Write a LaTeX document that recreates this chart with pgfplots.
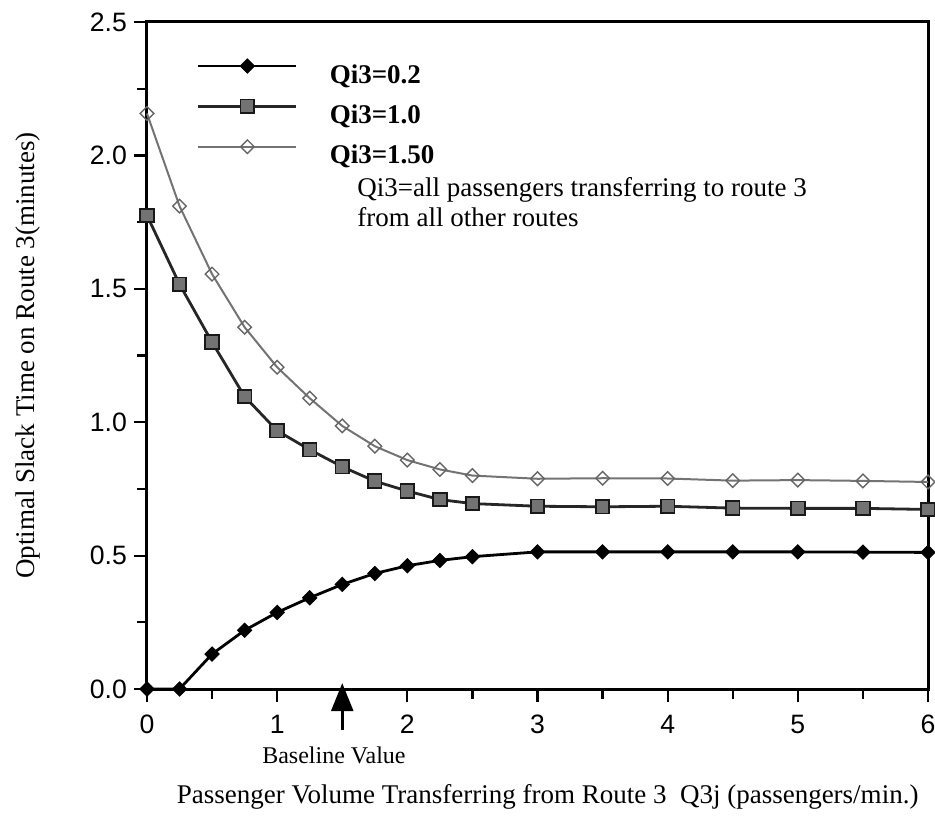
\documentclass[border=0pt]{standalone}
\usepackage{fontspec}
\setmainfont{Liberation Serif}
\newfontfamily\sansf{Liberation Sans}
\usepackage{pgfplots}
\pgfplotsset{compat=1.18}
\usetikzlibrary{arrows.meta}

\begin{document}
\begin{tikzpicture}
\path[use as bounding box] (-73.5pt,-63pt) rectangle (394pt,344.5pt);
\begin{axis}[
  scale only axis, width=390.5pt, height=333.5pt,
  xmin=0, xmax=6, ymin=0, ymax=2.5,
  clip=false,
  axis line style={line width=1.5pt},
  xtick={0,1,2,3,4,5,6},
  minor xtick={0.5,1.5,2.5,3.5,4.5,5.5},
  ytick={0,0.5,1.0,1.5,2.0,2.5},
  minor ytick={0.25,0.75,1.25,1.75,2.25},
  tick align=outside, xtick pos=bottom, ytick pos=left,
  major tick length=6.5pt, minor tick length=5pt,
  every tick/.style={line width=1.1pt, black},
  /pgf/number format/assume math mode=true,
  ticklabel style={font=\sansf\fontsize{13.3}{14}\selectfont},
  xticklabel style={yshift=-3pt},
  yticklabel style={/pgf/number format/.cd, fixed, fixed zerofill, precision=1},
  xlabel={Passenger Volume Transferring from Route 3\ \ Q3j (passengers/min.)},
  xlabel style={at={(axis description cs:0.513,-0.162)}, anchor=center, font=\fontsize{13.5}{15}\selectfont},
  ylabel={Optimal Slack Time on Route 3(minutes)},
  ylabel style={at={(axis description cs:-0.1524,0.5)}, anchor=center, font=\fontsize{13.5}{15}\selectfont},
  legend style={at={(axis description cs:0.064,0.9445)}, anchor=north west, draw=none, fill=none,
    inner sep=0pt, outer sep=0pt, row sep=4.25pt,
    font=\bfseries\fontsize{13.5}{15}\selectfont,
    nodes={inner sep=1pt, text height=10pt, text depth=3pt},
    /tikz/every odd column/.append style={column sep=15pt}},
  legend cell align=left,
  legend image code/.code={\draw[mark repeat=2,mark phase=2,yshift=5pt] plot coordinates {(0pt,0pt)(24.5pt,0pt)(49pt,0pt)};},
]
\draw[line width=1.5pt, black] (rel axis cs:0,0) rectangle (rel axis cs:1,1);
\addplot[black, line width=1.4pt, mark=square*, mark size=2.5pt, mark options={rotate=45, fill=black, draw=black, line width=0.5pt}] coordinates {
(0,0)(0.25,0)(0.5,0.131)(0.75,0.22)(1,0.287)(1.25,0.342)(1.5,0.392)(1.75,0.433)(2,0.462)(2.25,0.482)(2.5,0.496)(3,0.514)(3.5,0.514)(4,0.514)(4.5,0.514)(5,0.514)(5.5,0.513)(6,0.512)};
\addlegendentry{Qi3=0.2}
\addplot[black!85, line width=1.4pt, mark=square*, mark size=3.4pt, mark options={fill=black!55, draw=black!90, line width=0.9pt}] coordinates {
(0,1.775)(0.25,1.517)(0.5,1.30)(0.75,1.096)(1,0.968)(1.25,0.897)(1.5,0.833)(1.75,0.779)(2,0.742)(2.25,0.71)(2.5,0.695)(3,0.685)(3.5,0.683)(4,0.685)(4.5,0.678)(5,0.677)(5.5,0.677)(6,0.673)};
\addlegendentry{Qi3=1.0}
\addplot[black!55, line width=1pt, mark=square, mark size=2.4pt, mark options={rotate=45, fill=white, draw=black!60, line width=0.7pt}] coordinates {
(0,2.157)(0.25,1.81)(0.5,1.555)(0.75,1.356)(1,1.206)(1.25,1.09)(1.5,0.986)(1.75,0.91)(2,0.858)(2.25,0.823)(2.5,0.80)(3,0.788)(3.5,0.79)(4,0.789)(4.5,0.781)(5,0.783)(5.5,0.78)(6,0.776)};
\addlegendentry{Qi3=1.50}
\node[anchor=base west, inner sep=0pt, font=\fontsize{13.5}{15}\selectfont] at (axis description cs:0.269,0.739) {Qi3=all passengers transferring to route 3};
\node[anchor=base west, inner sep=0pt, font=\fontsize{13.5}{15}\selectfont] at (axis description cs:0.269,0.694) {from all other routes};
\node[font=\fontsize{12}{13}\selectfont] at (axis description cs:0.2394,-0.099) {Baseline Value};
\draw[-{Triangle[width=11pt,length=14pt]}, line width=1.3pt] (axis cs:1.5,-0.154) -- (axis cs:1.5,0.022);
\end{axis}
\end{tikzpicture}
\end{document}
